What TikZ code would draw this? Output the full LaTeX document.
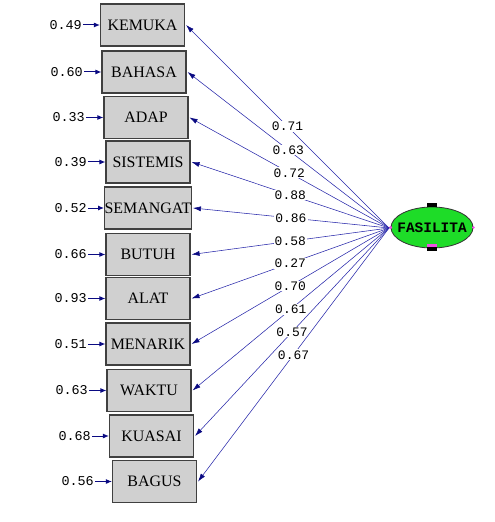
\documentclass[tikz,border=0pt]{standalone}
\usepackage{fontspec}
\usepackage{tikz}
\usetikzlibrary{shapes.geometric,arrows.meta}
\newfontfamily\boxfont{Liberation Serif}
\newfontfamily\numfont{Liberation Mono}
\definecolor{pathblue}{RGB}{40,40,170}
\definecolor{tipblue}{RGB}{10,10,130}
\definecolor{boxgray}{RGB}{208,208,208}
\definecolor{latgreen}{RGB}{30,220,40}
\definecolor{markpink}{RGB}{240,80,230}

\begin{document}
\begin{tikzpicture}[x=1bp,y=-1bp,
        indicator/.style={draw=black!75,fill=boxgray,line width=1.1bp,minimum width=84bp,minimum height=42bp,inner sep=0pt,font=\boxfont\fontsize{16}{16}\selectfont},
        latent/.style={ellipse,draw=black!80,fill=latgreen,line width=0.8bp,minimum width=82bp,minimum height=41bp,inner ysep=0pt,inner xsep=-8bp,font=\numfont\bfseries\fontsize{14.5}{14.5}\selectfont},
        errlabel/.style={anchor=east,inner sep=1bp,font=\numfont\fontsize{13.5}{13.5}\selectfont},
        errarrow/.style={draw=tipblue,line width=1bp,-{Latex[length=6bp,width=5bp]}},
        loadline/.style={draw=pathblue,line width=0.55bp,-{Latex[length=8bp,width=5bp,color=tipblue]}},
        loadlabel/.style={fill=white,text=black,inner sep=1bp,font=\numfont\fontsize{13}{13}\selectfont}]
        \useasboundingbox (0,0) rectangle (495,522);
        \node[indicator] (kemuka) at (142.5,25) {KEMUKA};
        \node[indicator] (bahasa) at (144,72) {BAHASA};
        \node[indicator] (adap) at (146,117.5) {ADAP};
        \node[indicator] (sistemis) at (148,162) {SISTEMIS};
        \node[indicator] (semangat) at (148,208) {SEMANGAT};
        \node[indicator] (butuh) at (148,254.5) {BUTUH};
        \node[indicator] (alat) at (148,298.5) {ALAT};
        \node[indicator] (menarik) at (148,344) {MENARIK};
        \node[indicator] (waktu) at (149,390.5) {WAKTU};
        \node[indicator] (kuasai) at (151.5,436) {KUASAI};
        \node[indicator] (bagus) at (154.5,481.5) {BAGUS};
        \node[errlabel] (e1) at (83,25) {0.49};
        \node[errlabel] (e2) at (84,72) {0.60};
        \node[errlabel] (e3) at (86,117.5) {0.33};
        \node[errlabel] (e4) at (88,162) {0.39};
        \node[errlabel] (e5) at (88,208) {0.52};
        \node[errlabel] (e6) at (88,254.5) {0.66};
        \node[errlabel] (e7) at (88,298.5) {0.93};
        \node[errlabel] (e8) at (88,344) {0.51};
        \node[errlabel] (e9) at (89,390.5) {0.63};
        \node[errlabel] (e10) at (92,436) {0.68};
        \node[errlabel] (e11) at (95,481.5) {0.56};
        \draw[errarrow] (e1) -- (kemuka);
        \draw[errarrow] (e2) -- (bahasa);
        \draw[errarrow] (e3) -- (adap);
        \draw[errarrow] (e4) -- (sistemis);
        \draw[errarrow] (e5) -- (semangat);
        \draw[errarrow] (e6) -- (butuh);
        \draw[errarrow] (e7) -- (alat);
        \draw[errarrow] (e8) -- (menarik);
        \draw[errarrow] (e9) -- (waktu);
        \draw[errarrow] (e10) -- (kuasai);
        \draw[errarrow] (e11) -- (bagus);
        \node[latent] (fasilita) at (432,227.5) {FASILITA};
        \fill[black] (427,203) rectangle (437,207);
        \fill[markpink] (427,244) rectangle (437,247);
        \fill[black] (427,247) rectangle (437,251);
        \fill[markpink] (fasilita.west) circle (1.8bp);
        \fill[markpink] (fasilita.east) circle (1.5bp);
        \coordinate (hub) at (389,228);
        \draw[loadline] (hub) -- node[loadlabel,pos=0.5] {0.71} ([xshift=1bp]kemuka.east);
        \draw[loadline] (hub) -- node[loadlabel,pos=0.5] {0.63} ([xshift=1bp]bahasa.east);
        \draw[loadline] (hub) -- node[loadlabel,pos=0.5] {0.72} ([xshift=1bp]adap.east);
        \draw[loadline] (hub) -- node[loadlabel,pos=0.5] {0.88} ([xshift=1bp]sistemis.east);
        \draw[loadline] (hub) -- node[loadlabel,pos=0.5] {0.86} ([xshift=1bp]semangat.east);
        \draw[loadline] (hub) -- node[loadlabel,pos=0.5] {0.58} ([xshift=1bp]butuh.east);
        \draw[loadline] (hub) -- node[loadlabel,pos=0.5] {0.27} ([xshift=1bp]alat.east);
        \draw[loadline] (hub) -- node[loadlabel,pos=0.5] {0.70} ([xshift=1bp]menarik.east);
        \draw[loadline] (hub) -- node[loadlabel,pos=0.5] {0.61} ([xshift=1bp]waktu.east);
        \draw[loadline] (hub) -- node[loadlabel,pos=0.5] {0.57} ([xshift=1bp]kuasai.east);
        \draw[loadline] (hub) -- node[loadlabel,pos=0.5] {0.67} ([xshift=1bp]bagus.east);
    \end{tikzpicture}
\end{document}
